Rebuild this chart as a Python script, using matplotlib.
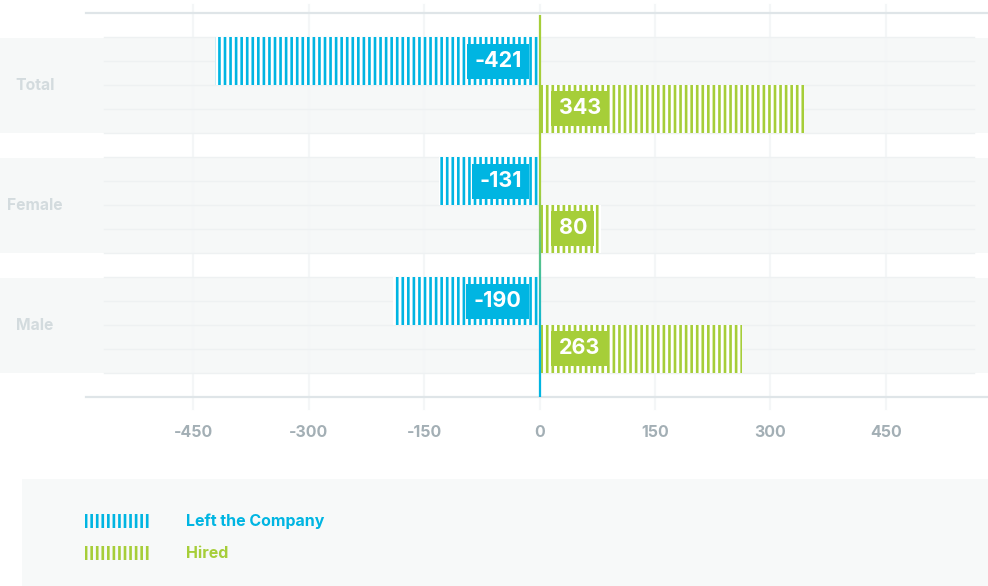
import numpy as np
import matplotlib.pyplot as plt
from matplotlib.patches import Rectangle
from matplotlib.collections import LineCollection
from matplotlib.colors import to_rgb
import matplotlib.transforms as mtransforms

categories = ['Total', 'Female', 'Male']
left_company = [-421, -131, -190]
hired = [343, 80, 263]
ticks = [-450, -300, -150, 0, 150, 300, 450]

BLUE = '#00b5e2'
GREEN = '#a6ce39'
BAND = '#f6f8f8'
GRID = '#eef1f2'
AXIS = '#dfe5e8'
TICK = '#a3afb5'
CAT = '#d3dbde'

plt.rcParams['font.family'] = ['Inter', 'DejaVu Sans']
plt.rcParams['hatch.linewidth'] = 1.9

fig = plt.figure(figsize=(9.88, 5.86), dpi=100)
ax = fig.add_axes([86 / 988, 189 / 586, 902 / 988, 384 / 586])
ax.set_facecolor('none')
ax.set_xlim(-589, 582.5)
ax.set_ylim(2.596, -0.604)

y = np.arange(len(categories))
band_tf = mtransforms.blended_transform_factory(fig.transFigure, ax.transData)

# grey bands behind each category, running out to the figure edges
for i in y:
    fig.add_artist(Rectangle((0, i - 0.396), 1, 0.792, transform=band_tf,
                             facecolor=BAND, edgecolor='none', zorder=-1))
    for off in (-0.4, -0.2, 0, 0.2, 0.4):
        ax.axhline(i + off, xmin=0.02, xmax=0.985, color=GRID, lw=1, zorder=0.5)

for t in ticks:
    ax.axvline(t, ymin=-0.03, ymax=1.022, color='#f4f6f7', lw=1.6,
               zorder=0.4, clip_on=False)

# striped bars
ax.barh(y - 0.4, left_company, height=0.4, align='edge', facecolor='white',
        edgecolor=BLUE, hatch='|||', linewidth=0, zorder=2)
ax.barh(y, hired, height=0.4, align='edge', facecolor='white',
        edgecolor=GREEN, hatch='|||', linewidth=0, zorder=2)

# value labels in solid boxes next to the zero line
for i, v in zip(y, left_company):
    ax.annotate(f'{v}', xy=(0, i - 0.2), xytext=(-18, 0), textcoords='offset pixels',
                ha='right', va='center', color='white', fontsize=15.5, fontweight='bold',
                bbox=dict(boxstyle='square,pad=0.34', facecolor=BLUE, edgecolor='none'),
                zorder=4)
for i, v in zip(y, hired):
    ax.annotate(f'{v}', xy=(0, i + 0.19), xytext=(19, 0), textcoords='offset pixels',
                ha='left', va='center', color='white', fontsize=15.5, fontweight='bold',
                bbox=dict(boxstyle='square,pad=0.34', facecolor=GREEN, edgecolor='none'),
                zorder=4)

# zero line fading from green at the top to blue at the bottom
ys = np.linspace(-0.5875, 2.596, 60)
segs = [[(0, ys[k]), (0, ys[k + 1])] for k in range(len(ys) - 1)]
g, b = np.array(to_rgb(GREEN)), np.array(to_rgb(BLUE))
frac = np.clip((np.linspace(0, 1, len(segs)) - 0.45) / 0.4, 0, 1)[:, None]
ax.add_collection(LineCollection(segs, colors=g * (1 - frac) + b * frac,
                                 linewidths=1.6, zorder=5, clip_on=False))

# category names on the far left
for i, c in zip(y, categories):
    ax.text(35 / 988, i, c, transform=band_tf, ha='center', va='center',
            color=CAT, fontsize=11.3, fontweight='bold')

ax.set_yticks([])
ax.set_xticks(ticks)
ax.set_xticklabels([str(t) for t in ticks], color=TICK, fontsize=11.5, fontweight='bold')
ax.tick_params(axis='x', length=0, pad=20)
for s in ('left', 'right'):
    ax.spines[s].set_visible(False)
for s in ('top', 'bottom'):
    ax.spines[s].set_color(AXIS)
    ax.spines[s].set_linewidth(1.6)

# legend panel
fig.add_artist(Rectangle((22 / 988, 0), 966 / 988, 107 / 586, transform=fig.transFigure,
                         facecolor='#f7f9f9', edgecolor='none', zorder=-1))
for row, (label, col) in enumerate([('Left the Company', BLUE), ('Hired', GREEN)]):
    yc = (586 - 521 - 32 * row) / 586
    fig.add_artist(Rectangle((85 / 988, yc - 7 / 586), 64 / 988, 14 / 586,
                             transform=fig.transFigure, facecolor='#f7f9f9',
                             edgecolor=col, hatch='|||', linewidth=0))
    fig.text(186 / 988, yc, label, ha='left', va='center', color=col,
             fontsize=11.5, fontweight='bold')

fig.savefig('out.png', dpi=100)
